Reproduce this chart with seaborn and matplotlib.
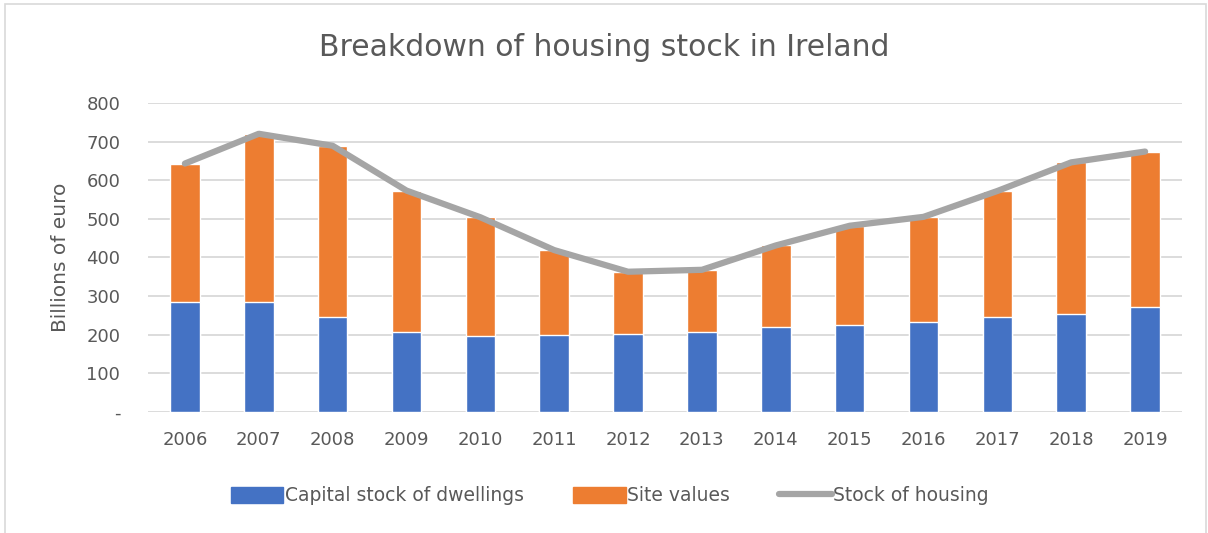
import matplotlib.pyplot as plt
import matplotlib.patches as mpatches
import matplotlib.lines as mlines
import seaborn as sns
import pandas as pd

years = ['2006', '2007', '2008', '2009', '2010', '2011', '2012',
         '2013', '2014', '2015', '2016', '2017', '2018', '2019']
capital_stock = [284, 284, 247, 206, 197, 198, 202, 207, 219, 225, 234, 247, 253, 273]
stock_of_housing = [643, 720, 689, 573, 504, 419, 363, 368, 431, 482, 505, 572, 646, 674]
site_values = [t - c for t, c in zip(stock_of_housing, capital_stock)]

df = pd.DataFrame({'year': years, 'capital': capital_stock,
                   'site': site_values, 'total': stock_of_housing})

sns.set_style('white')
plt.rcParams['font.family'] = ['DejaVu Sans']
txt = '#595959'
blue = '#4472C4'
orange = '#ED7D31'
grey = '#A5A5A5'

fig = plt.figure(figsize=(12.08, 5.33), dpi=100)
ax = fig.add_axes([0.1225, 0.227, 0.856, 0.58])

# stacked bars: draw the total (orange) first, then blue on top of it
sns.barplot(data=df, x='year', y='total', color=orange, width=0.4,
            saturation=1, ax=ax, zorder=2)
sns.barplot(data=df, x='year', y='capital', color=blue, width=0.4,
            saturation=1, ax=ax, zorder=3)
sns.lineplot(data=df, x='year', y='total', color=grey, linewidth=4.5,
             ax=ax, zorder=4, sort=False)

ax.set_ylim(0, 800)
ax.set_xlim(-0.5, 13.5)
ax.set_yticks(range(0, 801, 100))
ax.set_yticklabels(['-'] + [str(v) for v in range(100, 801, 100)])
ax.yaxis.grid(True, color='#D9D9D9', linewidth=1.3, zorder=0)
ax.set_axisbelow(True)
for s in ax.spines.values():
    s.set_visible(False)
ax.tick_params(axis='both', length=0, labelsize=13, colors=txt)
ax.tick_params(axis='y', pad=20)
ax.tick_params(axis='x', pad=14)
ax.set_xlabel('')
ax.set_ylabel('Billions of euro', fontsize=14.5, color=txt, labelpad=12)

fig.text(0.5, 0.91, 'Breakdown of housing stock in Ireland', ha='center',
         va='center', fontsize=21.5, color=txt)

handles = [mpatches.Patch(color=blue, label='Capital stock of dwellings'),
           mpatches.Patch(color=orange, label='Site values'),
           mlines.Line2D([], [], color=grey, linewidth=4.5, label='Stock of housing')]
fig.legend(handles=handles, loc='center', bbox_to_anchor=(0.505, 0.07), ncol=3,
           frameon=False, fontsize=13.5, labelcolor=txt, handlelength=2.8,
           handleheight=0.9, handletextpad=0.1, columnspacing=2.6)

# light chart frame
frame = mpatches.Rectangle((5 / 1208, -0.05), 1201 / 1208, 1.042, transform=fig.transFigure,
                           fill=False, edgecolor='#D9D9D9', linewidth=1.2)
fig.patches.append(frame)

fig.savefig('out.png', dpi=100)
